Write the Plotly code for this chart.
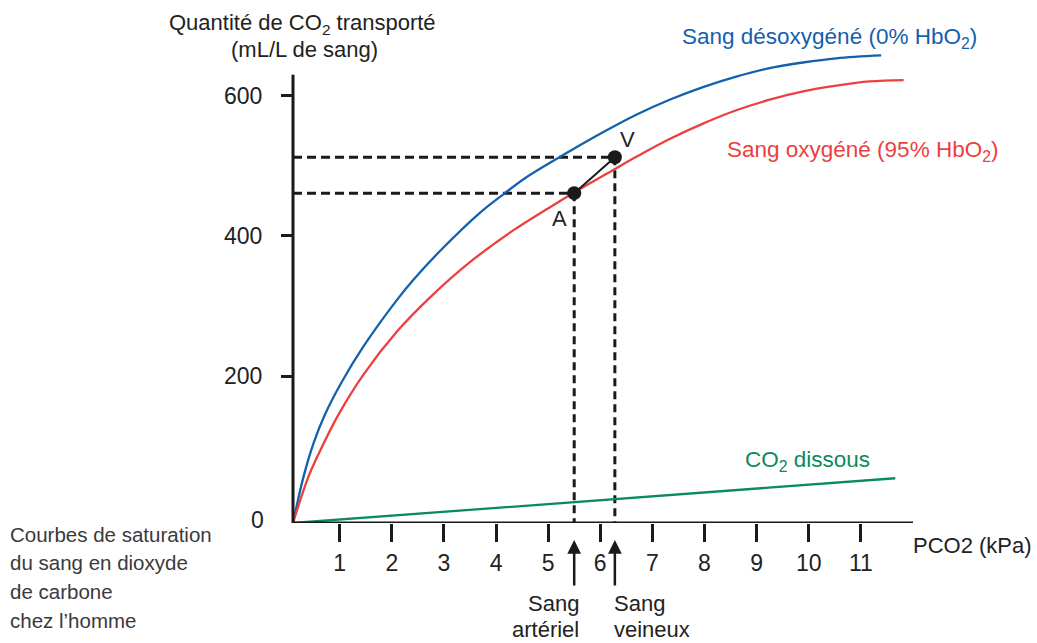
import plotly.graph_objects as go

# ---- data ----
blue_x = [0.105, 0.31, 0.5, 0.72, 1.04, 1.46, 2.10, 2.42, 2.93, 3.69, 4.17, 4.59, 5.42, 6.06, 6.70, 7.33, 7.97, 8.61, 9.25, 9.89, 10.53, 11.39]
blue_y = [-8.7, 58, 105, 146, 192, 243, 309, 338, 379, 433, 461, 484, 521, 548, 573, 594, 612, 627, 639, 647, 653, 657]

red_x = [0.105, 0.40, 0.63, 0.98, 1.46, 2.10, 2.74, 3.47, 4.33, 4.97, 5.5, 6.25, 6.70, 7.33, 7.97, 8.61, 9.25, 9.89, 10.53, 11.17, 11.82]
red_y = [-8.7, 57, 95, 146, 203, 264, 313, 361, 408, 438, 462, 494, 513, 538, 560, 579, 594, 606, 614, 620, 622]

green_x = [0.105, 5.5, 11.66]
green_y = [-8.7, 21, 55]

point_names = ["A", "V"]
point_x = [5.5, 6.28]
point_y = [461, 512]

x_ticks = [1, 2, 3, 4, 5, 6, 7, 8, 9, 10, 11]
y_ticks = [200, 400, 600]

X_MIN, X_MAX = 0.105, 12.0
Y_MIN, Y_MAX = -8.7, 689
Y_AXIS_TOP = 629.5

BLUE = "#1560ad"
RED = "#ec4040"
GREEN = "#0b8b5c"
INK = "#1a1a1a"
TXT = "#222222"
FONT = "Liberation Sans, Arial, sans-serif"

W, H = 1037, 643
ML, MR, MT, MB = 293, 124, 33, 120
PW, PH = W - ML - MR, H - MT - MB


def xp(px):
    return (px - ML) / PW


def yp(py):
    return (H - MB - py) / PH


fig = go.Figure()

# dashed guide lines for A and V
for px_, py_ in zip(point_x, point_y):
    fig.add_trace(go.Scatter(x=[X_MIN, px_], y=[py_, py_], mode="lines",
                             line=dict(color=INK, width=3, dash="9px,5px"),
                             hoverinfo="skip", showlegend=False))
    fig.add_trace(go.Scatter(x=[px_, px_], y=[py_, Y_MIN], mode="lines",
                             line=dict(color=INK, width=3, dash="8px,5px"),
                             hoverinfo="skip", showlegend=False))

fig.add_trace(go.Scatter(x=green_x, y=green_y, mode="lines",
                         line=dict(color=GREEN, width=2.3), showlegend=False))
fig.add_trace(go.Scatter(x=blue_x, y=blue_y, mode="lines", line_shape="spline",
                         line=dict(color=BLUE, width=2.3, smoothing=1.0), showlegend=False))
fig.add_trace(go.Scatter(x=red_x, y=red_y, mode="lines", line_shape="spline",
                         line=dict(color=RED, width=2.3, smoothing=1.0), showlegend=False))

# A - V segment with dots
fig.add_trace(go.Scatter(x=point_x, y=point_y, mode="lines+markers",
                         line=dict(color=INK, width=2),
                         marker=dict(color=INK, size=14),
                         showlegend=False))

# axis lines
fig.add_shape(type="line", xref="paper", yref="y", x0=0, x1=0, y0=Y_MIN, y1=Y_AXIS_TOP,
              line=dict(color=INK, width=3))
fig.add_shape(type="line", xref="paper", yref="y", x0=0, x1=1, y0=Y_MIN, y1=Y_MIN,
              line=dict(color=INK, width=3))

ann = []


def txt(text, x, y, xanchor="center", color=TXT, size=22):
    ann.append(dict(text=text, x=x, y=y, xref="paper", yref="paper", xanchor=xanchor,
                    yanchor="middle", showarrow=False,
                    font=dict(family=FONT, size=size, color=color)))


txt("Quantité de CO<sub>2</sub> transporté", xp(302), yp(24))
txt("(mL/L de sang)", xp(304), yp(50))
txt("0", xp(266), yp(520), xanchor="right", size=23)
txt("PCO2 (kPa)", xp(911), yp(545), xanchor="left")
txt("Sang désoxygéné (0% HbO<sub>2</sub>)", xp(680), yp(38), xanchor="left", color=BLUE, size=22.5)
txt("Sang oxygéné (95% HbO<sub>2</sub>)", xp(725), yp(151), xanchor="left", color=RED, size=22.5)
txt("CO<sub>2</sub> dissous", xp(743), yp(461), xanchor="left", color=GREEN, size=22.5)
txt(point_names[1], xp(627), yp(140))
txt(point_names[0], xp(559), yp(218))
txt("Sang", xp(581), yp(603), xanchor="right")
txt("artériel", xp(581), yp(629), xanchor="right")
txt("Sang", xp(612), yp(603), xanchor="left")
txt("veineux", xp(612), yp(629), xanchor="left")
cap = ["Courbes de saturation", "du sang en dioxyde", "de carbone", "chez l\u2019homme"]
for i, line in enumerate(cap):
    txt(line, xp(8), yp(534 + i * 28.7), xanchor="left", color="#3a3a3a", size=20.5)

# arrows under the x axis
for px_ in point_x:
    ann.append(dict(text="", x=px_, y=yp(540), xref="x", yref="paper",
                    showarrow=True, ax=0, ay=47, arrowhead=2, arrowsize=1.1,
                    arrowwidth=2.5, arrowcolor=INK))

fig.update_layout(
    width=W, height=H,
    margin=dict(l=ML, r=MR, t=MT, b=MB),
    paper_bgcolor="white", plot_bgcolor="white",
    font=dict(family=FONT, size=22, color=TXT),
    annotations=ann,
    hovermode=False,
    xaxis=dict(range=[X_MIN, X_MAX], tickvals=x_ticks, ticktext=[str(v) for v in x_ticks],
               ticks="outside", ticklen=18, tickwidth=2.5, tickcolor=INK,
               showgrid=False, zeroline=False, showline=False,
               ticklabelstandoff=1, tickfont=dict(family=FONT, size=23, color=TXT)),
    yaxis=dict(range=[Y_MIN, Y_MAX], tickvals=y_ticks, ticktext=[str(v) for v in y_ticks],
               ticks="outside", ticklen=11, tickwidth=2.5, tickcolor=INK,
               showgrid=False, zeroline=False, showline=False,
               ticklabelstandoff=14, tickfont=dict(family=FONT, size=23, color=TXT)),
)

fig.write_html("out.html", config={"displayModeBar": False},
               post_script="document.body.style.margin='0px';")
